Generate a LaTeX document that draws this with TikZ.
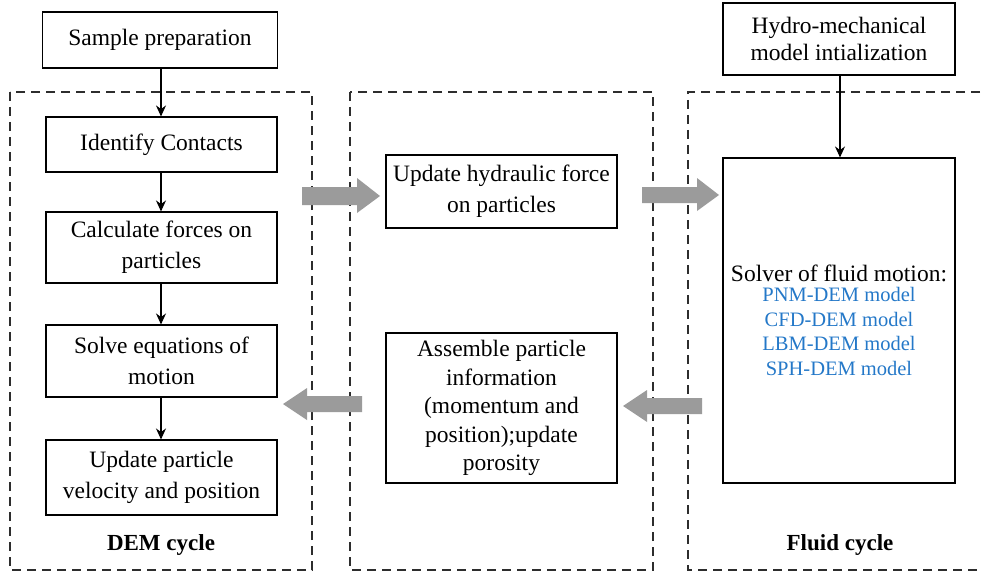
\documentclass[tikz,border=0pt]{standalone}
\usepackage{fontspec}
\setmainfont{Liberation Serif}
\usetikzlibrary{arrows.meta}
\definecolor{arrowgray}{RGB}{155,155,155}
\definecolor{modelblue}{RGB}{36,120,200}
\definecolor{dashgray}{RGB}{45,45,45}
\begin{document}
\begin{tikzpicture}[x=1pt,y=-1pt,
  box/.style={draw, line width=1.1pt, align=center, inner sep=0pt,
    font=\fontsize{23.5}{31}\selectfont},
  cyc/.style={draw=dashgray, line width=1.5pt, dash pattern=on 9pt off 6pt},
  flow/.style={-{Stealth[length=11pt,width=10pt]}, line width=1.1pt},
  lbl/.style={font=\fontsize{23}{26}\selectfont\bfseries},
  bigarrow/.style={fill=arrowgray, draw=none}]
\useasboundingbox (0,0) rectangle (982,575);
\clip (0,0) rectangle (982,575);

% dashed cycle frames
\draw[cyc] (10,92) rectangle (312,570);
\draw[cyc] (350,92) rectangle (653,570);
\draw[cyc] (995,92) -- (688,92) -- (688,570) -- (995,570);

% DEM column
\node[box, minimum width=235pt, minimum height=56pt] (sample) at (160,40) {Sample preparation};
\node[box, minimum width=231pt, minimum height=55pt] (identify) at (161.5,144.5) {Identify Contacts};
\node[box, minimum width=231pt, minimum height=71pt] (calc) at (161.5,247.5) {Calculate forces on\\particles};
\node[box, minimum width=231pt, minimum height=72pt] (solve) at (161.5,361) {Solve equations of\\motion};
\node[box, minimum width=231pt, minimum height=75pt] (update) at (161.5,477.5) {Update particle\\velocity and position};
\node[lbl] (demlbl) at (161,545) {DEM cycle};

\draw[flow] (sample.south -| 161,0) -- (identify.north -| 161,0);
\draw[flow] (identify.south -| 161,0) -- (calc.north -| 161,0);
\draw[flow] (calc.south -| 161,0) -- (solve.north -| 161,0);
\draw[flow] (solve.south -| 161,0) -- (update.north -| 161,0);

% middle column
\node[box, minimum width=231pt, minimum height=73pt] (hydraulic) at (501.5,191.5) {Update hydraulic force\\on particles};
\node[box, minimum width=231pt, minimum height=150pt, font=\fontsize{23.5}{28.5}\selectfont] (assemble) at (501.5,408) {Assemble particle\\information\\(momentum and\\position);update\\porosity};

% fluid column
\node[box, minimum width=232pt, minimum height=72pt, font=\fontsize{23.5}{27}\selectfont] (hydro) at (839,39) {Hydro-mechanical\\model intialization};
\node[box, minimum width=232pt, minimum height=325pt] (solver) at (839,320.5) {};
\node[font=\fontsize{23.5}{26}\selectfont] (solvertxt) at (839,273) {Solver of fluid motion:};
\node[align=center, text=modelblue, font=\fontsize{20.5}{24.5}\selectfont, anchor=north] (models) at (839,284) {PNM-DEM model\\CFD-DEM model\\LBM-DEM model\\SPH-DEM model};
\node[lbl] (fluidlbl) at (840,545) {Fluid cycle};

\draw[flow] (hydro.south -| 840,0) -- (solver.north -| 840,0);

% big gray exchange arrows
\fill[bigarrow] (302,187) -- (357,187) -- (357,178) -- (380,196) -- (357,213) -- (357,205) -- (302,205) -- cycle;
\fill[bigarrow] (642,187) -- (697,187) -- (697,178) -- (719,195) -- (697,211) -- (697,203) -- (642,203) -- cycle;
\fill[bigarrow] (702,398) -- (647,398) -- (647,390) -- (623,406) -- (647,422) -- (647,414) -- (702,414) -- cycle;
\fill[bigarrow] (362,396) -- (307,396) -- (307,388) -- (283,404) -- (307,420) -- (307,412) -- (362,412) -- cycle;
\end{tikzpicture}
\end{document}
